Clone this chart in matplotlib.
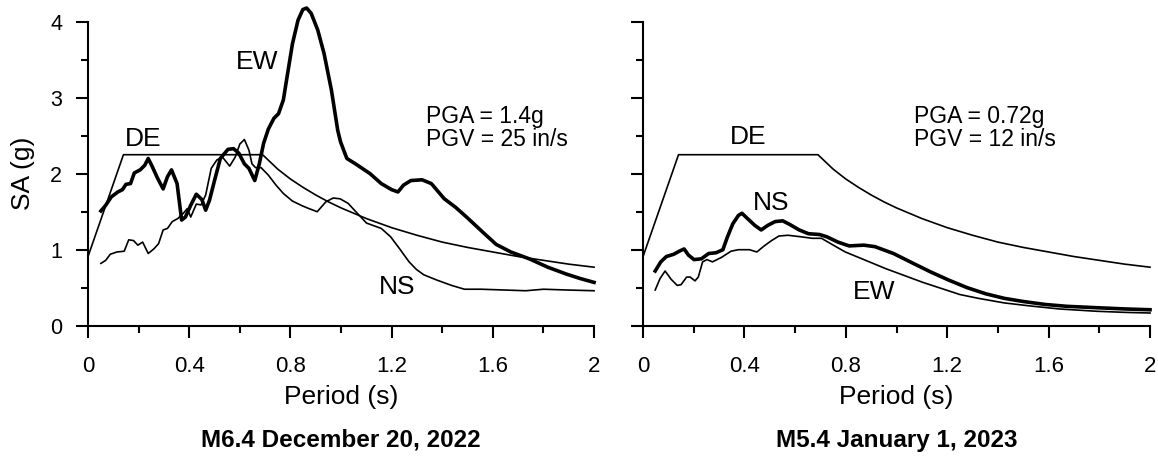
import matplotlib.pyplot as plt
from matplotlib.ticker import MultipleLocator

plt.rcParams['font.family'] = ['Liberation Sans', 'DejaVu Sans']

# design spectrum (same for both events)
de_t = [0, 0.14, 0.69, 0.75, 0.8, 0.85, 0.9, 0.95, 1.0, 1.1, 1.2, 1.3, 1.4, 1.5, 1.6, 1.7, 1.8, 1.9, 2.0]
de_sa = [0.91, 2.25, 2.25, 2.06, 1.93, 1.82, 1.72, 1.63, 1.55, 1.41, 1.29, 1.19, 1.10, 1.03, 0.97, 0.91, 0.86, 0.81, 0.77]

# M6.4 December 20, 2022
ew1_t = [0.051, 0.07, 0.092, 0.118, 0.136, 0.15, 0.168, 0.183, 0.206, 0.224, 0.238, 0.253, 0.275, 0.297,
         0.314, 0.33, 0.352, 0.37, 0.385, 0.406, 0.428, 0.45, 0.465, 0.48, 0.5, 0.523, 0.553, 0.575, 0.596,
         0.618, 0.636, 0.659, 0.677, 0.694, 0.713, 0.735, 0.753, 0.772, 0.787, 0.808, 0.83, 0.849, 0.864,
         0.882, 0.908, 0.933, 0.962, 0.987, 0.998, 1.023, 1.057, 1.115, 1.159, 1.2, 1.225, 1.247, 1.276,
         1.32, 1.357, 1.408, 1.452, 1.496, 1.554, 1.613, 1.671, 1.744, 1.817, 1.89, 1.946, 2.0]
ew1_sa = [1.51, 1.585, 1.695, 1.76, 1.79, 1.86, 1.87, 2.01, 2.05, 2.11, 2.2, 2.10, 1.94, 1.80,
          1.96, 2.05, 1.87, 1.39, 1.43, 1.585, 1.73, 1.66, 1.52, 1.65, 1.91, 2.2, 2.32, 2.33, 2.27,
          2.13, 2.07, 1.91, 2.13, 2.40, 2.59, 2.73, 2.79, 2.97, 3.28, 3.71, 4.02, 4.16, 4.18,
          4.11, 3.89, 3.58, 3.10, 2.57, 2.42, 2.20, 2.13, 2.00, 1.87, 1.79, 1.76, 1.85, 1.91,
          1.92, 1.87, 1.67, 1.56, 1.43, 1.25, 1.07, 0.97, 0.88, 0.77, 0.68, 0.62, 0.57]

ns1_t = [0.051, 0.07, 0.088, 0.114, 0.143, 0.161, 0.18, 0.197, 0.216, 0.238, 0.26, 0.279, 0.297, 0.314,
         0.333, 0.355, 0.377, 0.392, 0.406, 0.428, 0.447, 0.465, 0.487, 0.509, 0.531, 0.56, 0.582, 0.6,
         0.618, 0.636, 0.648, 0.662, 0.684, 0.713, 0.743, 0.772, 0.808, 0.845, 0.874, 0.906, 0.94, 0.969,
         0.996, 1.028, 1.064, 1.101, 1.159, 1.196, 1.232, 1.269, 1.298, 1.327, 1.379, 1.437, 1.488, 1.554,
         1.642, 1.73, 1.8, 1.89, 2.0]
ns1_sa = [0.82, 0.86, 0.94, 0.97, 0.98, 1.13, 1.12, 1.06, 1.10, 0.95, 1.01, 1.08, 1.26, 1.28,
          1.37, 1.41, 1.48, 1.54, 1.43, 1.60, 1.59, 1.72, 2.07, 2.18, 2.22, 2.10, 2.22, 2.39,
          2.45, 2.31, 2.13, 2.08, 2.08, 1.98, 1.85, 1.74, 1.64, 1.58, 1.54, 1.50, 1.63, 1.68,
          1.67, 1.61, 1.48, 1.35, 1.28, 1.17, 1.01, 0.84, 0.74, 0.67, 0.60, 0.53, 0.48, 0.48,
          0.47, 0.46, 0.48, 0.47, 0.46]

# M5.4 January 1, 2023
ns2_t = [0.048, 0.07, 0.092, 0.121, 0.143, 0.162, 0.179, 0.201, 0.23, 0.259, 0.288, 0.315, 0.332, 0.354,
         0.376, 0.39, 0.412, 0.441, 0.466, 0.492, 0.521, 0.551, 0.58, 0.616, 0.653, 0.696, 0.725, 0.769,
         0.813, 0.871, 0.915, 0.988, 1.06, 1.133, 1.206, 1.279, 1.352, 1.425, 1.497, 1.585, 1.672, 1.789,
         1.905, 2.0]
ns2_sa = [0.72, 0.84, 0.91, 0.94, 0.98, 1.01, 0.93, 0.87, 0.88, 0.95, 0.96, 1.00, 1.16, 1.34,
          1.45, 1.48, 1.41, 1.32, 1.26, 1.32, 1.37, 1.38, 1.33, 1.26, 1.21, 1.20, 1.17, 1.10,
          1.05, 1.06, 1.04, 0.95, 0.83, 0.71, 0.60, 0.50, 0.42, 0.36, 0.32, 0.28, 0.255, 0.237,
          0.22, 0.21]

ew2_t = [0.048, 0.067, 0.087, 0.111, 0.135, 0.15, 0.172, 0.186, 0.205, 0.218, 0.235, 0.252, 0.274, 0.31,
         0.347, 0.376, 0.42, 0.449, 0.478, 0.507, 0.536, 0.572, 0.623, 0.667, 0.704, 0.74, 0.798, 0.871,
         0.958, 1.031, 1.104, 1.177, 1.25, 1.323, 1.425, 1.527, 1.643, 1.789, 1.905, 2.0]
ew2_sa = [0.47, 0.62, 0.72, 0.61, 0.53, 0.54, 0.64, 0.64, 0.59, 0.64, 0.84, 0.87, 0.84, 0.90,
          0.98, 1.00, 1.00, 0.97, 1.05, 1.12, 1.18, 1.19, 1.17, 1.15, 1.15, 1.08, 0.97, 0.87,
          0.75, 0.66, 0.57, 0.49, 0.41, 0.36, 0.30, 0.26, 0.22, 0.19, 0.175, 0.167]

titles = ["M6.4 December 20, 2022", "M5.4 January 1, 2023"]
pga_text = ["PGA = 1.4g\nPGV = 25 in/s", "PGA = 0.72g\nPGV = 12 in/s"]

fig = plt.figure(figsize=(11.58, 4.57), dpi=100)
ax1 = fig.add_axes([0.076, 0.2873, 0.437, 0.6652])
ax2 = fig.add_axes([0.5553, 0.2873, 0.4378, 0.6652])

thin, thick = 1.2, 2.6
ax1.plot(de_t, de_sa, color='black', lw=thin, clip_on=False)
ax1.plot(ns1_t, ns1_sa, color='black', lw=thin, clip_on=False)
ax1.plot(ew1_t, ew1_sa, color='black', lw=thick, clip_on=False)
ax2.plot(de_t, de_sa, color='black', lw=thin, clip_on=False)
ax2.plot(ew2_t, ew2_sa, color='black', lw=thin, clip_on=False)
ax2.plot(ns2_t, ns2_sa, color='black', lw=thick, clip_on=False)

lab = dict(fontsize=19, ha='center', va='center')
ax1.text(0.67, 3.47, "EW", **lab)
ax1.text(0.22, 2.46, "DE", **lab)
ax1.text(1.22, 0.51, "NS", **lab)
ax2.text(0.415, 2.48, "DE", **lab)
ax2.text(0.507, 1.62, "NS", **lab)
ax2.text(0.91, 0.45, "EW", **lab)
ax1.text(1.335, 2.6, pga_text[0], fontsize=16.5, ha='left', va='center', linespacing=1.0)
ax2.text(1.068, 2.6, pga_text[1], fontsize=16.5, ha='left', va='center', linespacing=1.0)

for ax, title in zip([ax1, ax2], titles):
    ax.set_xlim(0, 2)
    ax.set_ylim(0, 4)
    ax.xaxis.set_major_locator(MultipleLocator(0.4))
    ax.xaxis.set_minor_locator(MultipleLocator(0.2))
    ax.yaxis.set_major_locator(MultipleLocator(1))
    ax.yaxis.set_minor_locator(MultipleLocator(0.5))
    ax.set_xticks([0, 0.4, 0.8, 1.2, 1.6, 2.0])
    ax.set_xticklabels(["0", "0.4", "0.8", "1.2", "1.6", "2"])
    ax.spines['top'].set_visible(False)
    ax.spines['right'].set_visible(False)
    ax.spines['left'].set_linewidth(1.5)
    ax.spines['bottom'].set_linewidth(1.5)
    ax.tick_params(which='major', direction='out', length=8.5, width=1.5)
    ax.tick_params(which='minor', direction='out', length=5, width=1.5)
    ax.tick_params(axis='x', which='major', pad=13, labelsize=16)
    ax.tick_params(axis='y', which='major', pad=10, labelsize=15.5)
    ax.text(0.5, -0.2576, "Period (s)", transform=ax.transAxes, fontsize=19, ha='center', va='baseline')
    ax.text(0.5, -0.399, title, transform=ax.transAxes, fontsize=17.5, fontweight='bold',
            ha='center', va='baseline')

ax1.set_yticks([0, 1, 2, 3, 4])
ax1.set_yticklabels(["0", "1", "2", "3", "4"])
ax2.tick_params(axis='y', labelleft=False)
ax1.text(-0.128, 0.5, "SA (g)", transform=ax1.transAxes, fontsize=19, rotation=90,
         ha='center', va='center')

fig.savefig("out.png", dpi=100)
